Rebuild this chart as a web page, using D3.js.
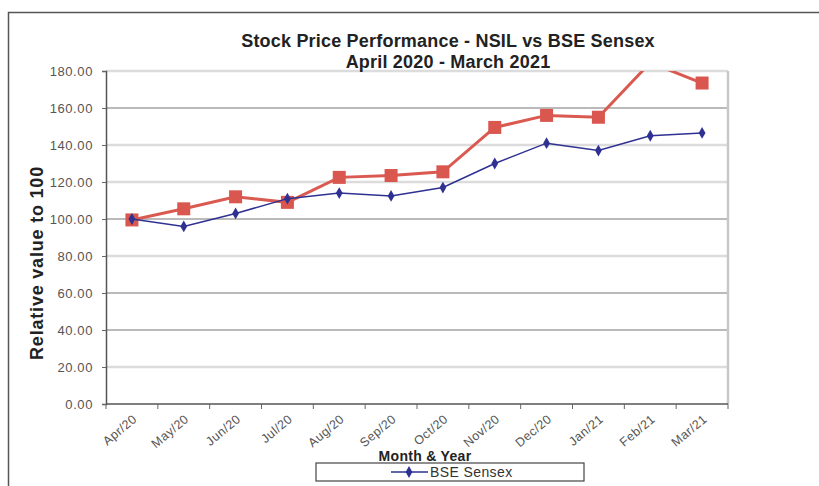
<!DOCTYPE html>
<html>
<head>
<meta charset="utf-8">
<script src="https://cdn.jsdelivr.net/npm/d3@7"></script>
<style>
  body { margin: 0; background: #fff; }
  text { font-family: Arial, "Liberation Sans", sans-serif; }
</style>
</head>
<body>
<script>
const months = ["Apr/20", "May/20", "Jun/20", "Jul/20", "Aug/20", "Sep/20",
  "Oct/20", "Nov/20", "Dec/20", "Jan/21", "Feb/21", "Mar/21"];
const bseSensex = [100, 96, 103, 111, 114, 112.5, 117, 130, 141, 137, 145, 146.5];
const nsil = [99.5, 105.5, 112, 109, 122.5, 123.5, 125.5, 149.5, 156, 155, 184.5, 173.5];
const yTicks = [0, 20, 40, 60, 80, 100, 120, 140, 160, 180];
// gridlines that appear faint in the scan
const lightTicks = [20, 80, 120, 140, 180];

const W = 819, H = 486;
const margin = { left: 106, top: 71, right: 91, bottom: 82 };
const iw = W - margin.left - margin.right,
  ih = H - margin.top - margin.bottom;

const svg = d3.select("body").append("svg")
  .attr("width", W).attr("height", H);

// outer frame (only top and left edges visible)
svg.append("path")
  .attr("d", "M8.5," + H + "V12.5H" + W)
  .attr("fill", "none")
  .attr("stroke", "#555")
  .attr("stroke-width", 1.5);

const x = d3.scaleBand().domain(months).range([0, iw]);
const y = d3.scaleLinear().domain([0, 180]).range([ih, 0]);

const g = svg.append("g")
  .attr("transform", "translate(" + margin.left + "," + margin.top + ")");

// gridlines
g.selectAll("line.grid")
  .data(yTicks.filter(d => d > 0))
  .enter().append("line")
  .attr("class", "grid")
  .attr("x1", 0).attr("x2", iw)
  .attr("y1", d => y(d)).attr("y2", d => y(d))
  .attr("stroke", d => lightTicks.includes(d) ? "#dcdcdc" : "#777")
  .attr("stroke-width", d => lightTicks.includes(d) ? 2.5 : 1.2);

// right border of plot area
g.append("line")
  .attr("x1", iw).attr("x2", iw)
  .attr("y1", 0).attr("y2", ih)
  .attr("stroke", "#c8c8c8")
  .attr("stroke-width", 2.5);

// y axis
const yAxis = g.append("g")
  .call(d3.axisLeft(y).tickValues(yTicks).tickFormat(d3.format(".2f")).tickSize(4).tickPadding(9));
yAxis.select(".domain").attr("stroke", "#555").attr("stroke-width", 1.5);
yAxis.selectAll(".tick line").attr("stroke", "#666");
yAxis.selectAll("text")
  .attr("fill", "#555")
  .style("font-size", "13px")
  .style("letter-spacing", "0.6px");

// x axis with ticks at category boundaries
const xAxis = g.append("g").attr("transform", "translate(0," + ih + ")");
xAxis.append("line")
  .attr("x1", 0).attr("x2", iw)
  .attr("stroke", "#555").attr("stroke-width", 1.5);
xAxis.selectAll("line.tk")
  .data(months.concat(["end"]))
  .enter().append("line")
  .attr("class", "tk")
  .attr("x1", (d, i) => i * x.step()).attr("x2", (d, i) => i * x.step())
  .attr("y1", 0).attr("y2", 5)
  .attr("stroke", "#666");
xAxis.selectAll("text")
  .data(months)
  .enter().append("text")
  .attr("transform", d => "translate(" + (x(d) + x.bandwidth() / 2 + 3) + ",13)rotate(-40)")
  .attr("text-anchor", "end")
  .attr("dy", "0.35em")
  .attr("fill", "#555")
  .style("font-size", "12.5px")
  .style("letter-spacing", "0.5px")
  .text(d => d);

// series
svg.append("clipPath").attr("id", "plotclip")
  .append("rect").attr("width", iw).attr("height", ih);
const plot = g.append("g").attr("clip-path", "url(#plotclip)");

const line = d3.line()
  .x((d, i) => x(months[i]) + x.bandwidth() / 2)
  .y(d => y(d));

plot.append("path")
  .datum(nsil)
  .attr("d", line)
  .attr("fill", "none")
  .attr("stroke", "#da5a52")
  .attr("stroke-width", 3);

plot.selectAll("rect.nsil")
  .data(nsil)
  .enter().append("rect")
  .attr("class", "nsil")
  .attr("x", (d, i) => x(months[i]) + x.bandwidth() / 2 - 6.5)
  .attr("y", d => y(d) - 6.5)
  .attr("width", 13).attr("height", 13)
  .attr("fill", "#d9574f");

plot.append("path")
  .datum(bseSensex)
  .attr("d", line)
  .attr("fill", "none")
  .attr("stroke", "#2e3192")
  .attr("stroke-width", 1.5);

const diamond = d3.symbol().type(d3.symbolDiamond).size(40);
plot.selectAll("path.bse")
  .data(bseSensex)
  .enter().append("path")
  .attr("class", "bse")
  .attr("d", diamond)
  .attr("transform", (d, i) => "translate(" + (x(months[i]) + x.bandwidth() / 2) + "," + y(d) + ")")
  .attr("fill", "#2e3192");

// titles
const title = svg.append("text")
  .attr("x", 448).attr("y", 47)
  .attr("text-anchor", "middle")
  .attr("fill", "#222")
  .style("font-size", "18px")
  .style("letter-spacing", "0.2px")
  .style("font-weight", "bold");
title.append("tspan").attr("x", 448).text("Stock Price Performance - NSIL vs BSE Sensex");
title.append("tspan").attr("x", 448).attr("dy", 21).text("April 2020 - March 2021");

svg.append("text")
  .attr("transform", "translate(43,263)rotate(-90)")
  .attr("text-anchor", "middle")
  .attr("fill", "#222")
  .style("font-size", "18px")
  .style("letter-spacing", "0.8px")
  .style("font-weight", "bold")
  .text("Relative value to 100");

svg.append("text")
  .attr("x", 425).attr("y", 461)
  .attr("text-anchor", "middle")
  .attr("fill", "#222")
  .style("font-size", "14px")
  .style("letter-spacing", "0.3px")
  .style("font-weight", "bold")
  .text("Month & Year");

// legend
const legend = svg.append("g").attr("transform", "translate(316,463)");
legend.append("rect")
  .attr("width", 268).attr("height", 18)
  .attr("fill", "none")
  .attr("stroke", "#444")
  .attr("stroke-width", 1.2);
legend.append("line")
  .attr("x1", 75).attr("x2", 112)
  .attr("y1", 9).attr("y2", 9)
  .attr("stroke", "#2e3192").attr("stroke-width", 1.5);
legend.append("path")
  .attr("d", diamond)
  .attr("transform", "translate(93,9)")
  .attr("fill", "#2e3192");
legend.append("text")
  .attr("x", 114).attr("y", 14)
  .attr("fill", "#333")
  .style("font-size", "14px")
  .style("letter-spacing", "0.4px")
  .text("BSE Sensex");
</script>
</body>
</html>
